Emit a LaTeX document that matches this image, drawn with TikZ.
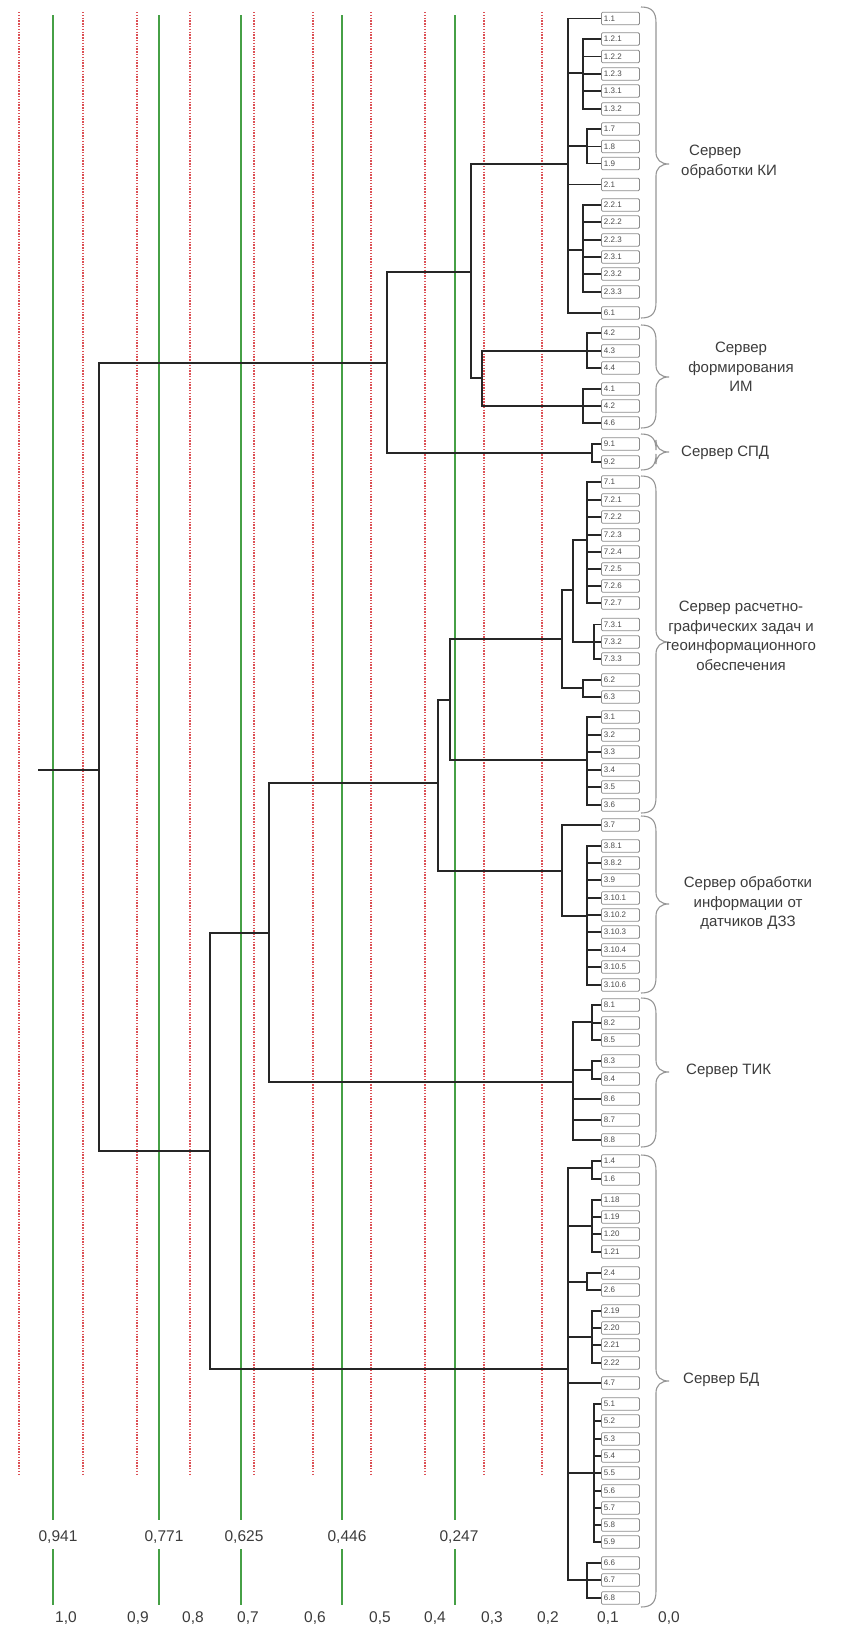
\documentclass[tikz,border=0pt]{standalone}
\usepackage{fontspec}
\setmainfont{Liberation Sans}
\definecolor{rd}{RGB}{220,80,85}
\definecolor{gr}{RGB}{70,160,70}
\definecolor{brc}{RGB}{150,150,150}
\definecolor{txt}{RGB}{60,60,60}
\tikzset{
  leafbox/.style={draw=black!45, fill=white, rounded corners=1.2pt, anchor=west,
    inner xsep=2.5pt, inner ysep=0pt, text width=33pt, minimum height=12.5pt,
    align=left, font=\fontsize{8}{8.5}\selectfont, text=black!70, line width=0.8pt},
  den/.style={draw=black!85, line width=1.4pt, line join=miter},
  redline/.style={draw=rd, line width=1.3pt, dash pattern=on 1.4pt off 1.4pt},
  greenline/.style={draw=gr, line width=1.8pt},
  bracestyle/.style={draw=brc, line width=1.1pt},
  grouplabel/.style={font=\fontsize{15}{19.5}\selectfont, text=txt, inner sep=0pt},
  axislabel/.style={font=\fontsize{15.5}{17}\selectfont, text=txt, inner sep=0pt}
}
\newcommand{\mybrace}[3]{% top, bottom, tip
  \draw[bracestyle] (641,#1) .. controls (652,#1) and (656,#1+5) .. (656,#1+16)
    -- (656,#3-12) .. controls (656,#3-4) and (661,#3) .. (669,#3)
    .. controls (661,#3) and (656,#3+4) .. (656,#3+12)
    -- (656,#2-16) .. controls (656,#2-5) and (652,#2) .. (641,#2);}
\newcommand{\leaf}[3]{\node[leafbox] (#1) at (601,#2) {#3};}
\begin{document}
\begin{tikzpicture}[x=1pt,y=-1pt]
\useasboundingbox (0,0) rectangle (867,1630);
\fill[white] (0,0) rectangle (867,1630);
% grid lines
\foreach \x in {19,83,137,190,254,313,371,425,484,542}
  \draw[redline] (\x,12) -- (\x,1476);
\foreach \x in {53,159,241,342,455} {
  \draw[greenline] (\x,15) -- (\x,1520);
  \draw[greenline] (\x,1549) -- (\x,1605);
}
% axis labels
\node[axislabel] (v1) at (58,1537) {0,941};
\node[axislabel] (v2) at (164,1537) {0,771};
\node[axislabel] (v3) at (244,1537) {0,625};
\node[axislabel] (v4) at (347,1537) {0,446};
\node[axislabel] (v5) at (459,1537) {0,247};
\node[axislabel] (a10) at (66,1618) {1,0};
\node[axislabel] (a9) at (138,1618) {0,9};
\node[axislabel] (a8) at (193,1618) {0,8};
\node[axislabel] (a7) at (248,1618) {0,7};
\node[axislabel] (a6) at (315,1618) {0,6};
\node[axislabel] (a5) at (380,1618) {0,5};
\node[axislabel] (a4) at (435,1618) {0,4};
\node[axislabel] (a3) at (492,1618) {0,3};
\node[axislabel] (a2) at (548,1618) {0,2};
\node[axislabel] (a1) at (608,1618) {0,1};
\node[axislabel] (a0) at (669,1618) {0,0};
% leaves
\leaf{k1}{18.5}{1.1}
\leaf{k2}{39}{1.2.1}
\leaf{k3}{56.5}{1.2.2}
\leaf{k4}{74}{1.2.3}
\leaf{k5}{91}{1.3.1}
\leaf{k6}{109}{1.3.2}
\leaf{k7}{129}{1.7}
\leaf{k8}{146.5}{1.8}
\leaf{k9}{163.5}{1.9}
\leaf{k10}{184.5}{2.1}
\leaf{k11}{205}{2.2.1}
\leaf{k12}{222}{2.2.2}
\leaf{k13}{240}{2.2.3}
\leaf{k14}{257}{2.3.1}
\leaf{k15}{274}{2.3.2}
\leaf{k16}{292}{2.3.3}
\leaf{k17}{313}{6.1}
\leaf{m1}{333}{4.2}
\leaf{m2}{351}{4.3}
\leaf{m3}{368}{4.4}
\leaf{m4}{389}{4.1}
\leaf{m5}{406}{4.2}
\leaf{m6}{423}{4.6}
\leaf{s1}{444}{9.1}
\leaf{s2}{462}{9.2}
\leaf{r1}{482}{7.1}
\leaf{r2}{500}{7.2.1}
\leaf{r3}{517}{7.2.2}
\leaf{r4}{535}{7.2.3}
\leaf{r5}{552}{7.2.4}
\leaf{r6}{569}{7.2.5}
\leaf{r7}{586}{7.2.6}
\leaf{r8}{603}{7.2.7}
\leaf{r9}{624.5}{7.3.1}
\leaf{r10}{642}{7.3.2}
\leaf{r11}{659}{7.3.3}
\leaf{r12}{680}{6.2}
\leaf{r13}{697}{6.3}
\leaf{r14}{717}{3.1}
\leaf{r15}{735}{3.2}
\leaf{r16}{752}{3.3}
\leaf{r17}{770}{3.4}
\leaf{r18}{787}{3.5}
\leaf{r19}{805}{3.6}
\leaf{d1}{825}{3.7}
\leaf{d2}{846}{3.8.1}
\leaf{d3}{863}{3.8.2}
\leaf{d4}{880}{3.9}
\leaf{d5}{898}{3.10.1}
\leaf{d6}{915}{3.10.2}
\leaf{d7}{932}{3.10.3}
\leaf{d8}{950}{3.10.4}
\leaf{d9}{967}{3.10.5}
\leaf{d10}{985}{3.10.6}
\leaf{t1}{1005}{8.1}
\leaf{t2}{1023}{8.2}
\leaf{t3}{1040}{8.5}
\leaf{t4}{1061}{8.3}
\leaf{t5}{1079}{8.4}
\leaf{t6}{1099}{8.6}
\leaf{t7}{1120}{8.7}
\leaf{t8}{1140}{8.8}
\leaf{b1}{1161}{1.4}
\leaf{b2}{1179}{1.6}
\leaf{b3}{1200}{1.18}
\leaf{b4}{1217}{1.19}
\leaf{b5}{1234}{1.20}
\leaf{b6}{1252}{1.21}
\leaf{b7}{1273}{2.4}
\leaf{b8}{1290}{2.6}
\leaf{b9}{1311}{2.19}
\leaf{b10}{1328}{2.20}
\leaf{b11}{1345}{2.21}
\leaf{b12}{1363}{2.22}
\leaf{b13}{1383}{4.7}
\leaf{b14}{1404}{5.1}
\leaf{b15}{1421}{5.2}
\leaf{b16}{1439}{5.3}
\leaf{b17}{1456}{5.4}
\leaf{b18}{1473}{5.5}
\leaf{b19}{1491}{5.6}
\leaf{b20}{1508}{5.7}
\leaf{b21}{1525}{5.8}
\leaf{b22}{1542}{5.9}
\leaf{b23}{1563}{6.6}
\leaf{b24}{1580}{6.7}
\leaf{b25}{1598}{6.8}
% internal nodes
\coordinate (R0) at (38,770);
\coordinate (R) at (99,770);
\coordinate (nA) at (387,363);
\coordinate (nKM) at (471,272);
\coordinate (nKI) at (568,164);
\coordinate (gK1) at (583,73);
\coordinate (gK2) at (587,146);
\coordinate (gK3) at (583,250);
\coordinate (nIM) at (482,378);
\coordinate (gM1) at (587,351);
\coordinate (gM2) at (583,406);
\coordinate (gS) at (592,453);
\coordinate (nB) at (210,1151);
\coordinate (nC) at (269,933);
\coordinate (nD) at (438,783);
\coordinate (nE) at (450,700);
\coordinate (nF) at (562,639);
\coordinate (nG) at (573,590);
\coordinate (gR1) at (587,540);
\coordinate (gR2) at (594,642);
\coordinate (gR3) at (583,688);
\coordinate (gR4) at (587,760);
\coordinate (nDZ) at (562,871);
\coordinate (gD) at (587,916);
\coordinate (nT) at (573,1082);
\coordinate (gT1) at (592,1022);
\coordinate (gT2) at (592,1070);
\coordinate (nBD) at (568,1369);
\coordinate (gB1) at (592,1168);
\coordinate (gB2) at (592,1226);
\coordinate (gB3) at (587,1282);
\coordinate (gB4) at (592,1337);
\coordinate (gB5) at (594,1473);
\coordinate (gB6) at (587,1580);
% dendrogram connectors
\draw[den] (R0) -- (R);
\draw[den] (R) |- (nA);
\draw[den] (R) |- (nB);
\draw[den] (nA) |- (nKM);
\draw[den] (nA) |- (gS);
\draw[den] (nKM) |- (nKI);
\draw[den] (nKM) |- (nIM);
\draw[den] (nKI) |- (k1.west);
\draw[den] (nKI) |- (gK1);
\draw[den] (nKI) |- (gK2);
\draw[den] (nKI) |- (k10.west);
\draw[den] (nKI) |- (gK3);
\draw[den] (nKI) |- (k17.west);
\foreach \c in {k2,k3,k4,k5,k6} \draw[den] (gK1) |- (\c.west);
\foreach \c in {k7,k8,k9} \draw[den] (gK2) |- (\c.west);
\foreach \c in {k11,k12,k13,k14,k15,k16} \draw[den] (gK3) |- (\c.west);
\draw[den] (nIM) |- (gM1);
\draw[den] (nIM) |- (gM2);
\foreach \c in {m1,m2,m3} \draw[den] (gM1) |- (\c.west);
\foreach \c in {m4,m5,m6} \draw[den] (gM2) |- (\c.west);
\foreach \c in {s1,s2} \draw[den] (gS) |- (\c.west);
\draw[den] (nB) |- (nC);
\draw[den] (nB) |- (nBD);
\draw[den] (nC) |- (nD);
\draw[den] (nC) |- (nT);
\draw[den] (nD) |- (nE);
\draw[den] (nD) |- (nDZ);
\draw[den] (nE) |- (nF);
\draw[den] (nE) |- (gR4);
\draw[den] (nF) |- (nG);
\draw[den] (nF) |- (gR3);
\draw[den] (nG) |- (gR1);
\draw[den] (nG) |- (gR2);
\foreach \c in {r1,r2,r3,r4,r5,r6,r7,r8} \draw[den] (gR1) |- (\c.west);
\foreach \c in {r9,r10,r11} \draw[den] (gR2) |- (\c.west);
\foreach \c in {r12,r13} \draw[den] (gR3) |- (\c.west);
\foreach \c in {r14,r15,r16,r17,r18,r19} \draw[den] (gR4) |- (\c.west);
\draw[den] (nDZ) |- (d1.west);
\draw[den] (nDZ) |- (gD);
\foreach \c in {d2,d3,d4,d5,d6,d7,d8,d9,d10} \draw[den] (gD) |- (\c.west);
\draw[den] (nT) |- (gT1);
\draw[den] (nT) |- (gT2);
\foreach \c in {t6,t7,t8} \draw[den] (nT) |- (\c.west);
\foreach \c in {t1,t2,t3} \draw[den] (gT1) |- (\c.west);
\foreach \c in {t4,t5} \draw[den] (gT2) |- (\c.west);
\draw[den] (nBD) |- (gB1);
\draw[den] (nBD) |- (gB2);
\draw[den] (nBD) |- (gB3);
\draw[den] (nBD) |- (gB4);
\draw[den] (nBD) |- (b13.west);
\draw[den] (nBD) |- (gB5);
\draw[den] (nBD) |- (gB6);
\foreach \c in {b1,b2} \draw[den] (gB1) |- (\c.west);
\foreach \c in {b3,b4,b5,b6} \draw[den] (gB2) |- (\c.west);
\foreach \c in {b7,b8} \draw[den] (gB3) |- (\c.west);
\foreach \c in {b9,b10,b11,b12} \draw[den] (gB4) |- (\c.west);
\foreach \c in {b14,b15,b16,b17,b18,b19,b20,b21,b22} \draw[den] (gB5) |- (\c.west);
\foreach \c in {b23,b24,b25} \draw[den] (gB6) |- (\c.west);
% braces
\mybrace{7}{318}{164}
\mybrace{325}{428}{377}
\mybrace{434}{470}{452}
\mybrace{476}{813}{642}
\mybrace{816}{993}{904}
\mybrace{998}{1147}{1072}
\mybrace{1155}{1607}{1381}
% group labels
\node[grouplabel, anchor=west, align=left] (lKI) at (681,162) {\hspace*{8pt}Сервер\\обработки КИ};
\node[grouplabel, align=center] (lIM) at (741,367) {Сервер\\формирования\\ИМ};
\node[grouplabel, anchor=west] (lS) at (681,453) {Сервер СПД};
\node[grouplabel, align=center] (lR) at (741,636) {Сервер расчетно-\\графических задач и\\геоинформационного\\обеспечения};
\node[grouplabel, align=center] (lD) at (748,903) {Сервер обработки\\информации от\\датчиков ДЗЗ};
\node[grouplabel, anchor=west] (lT) at (686,1071) {Сервер ТИК};
\node[grouplabel, anchor=west] (lB) at (683,1380) {Сервер БД};
\end{tikzpicture}
\end{document}
